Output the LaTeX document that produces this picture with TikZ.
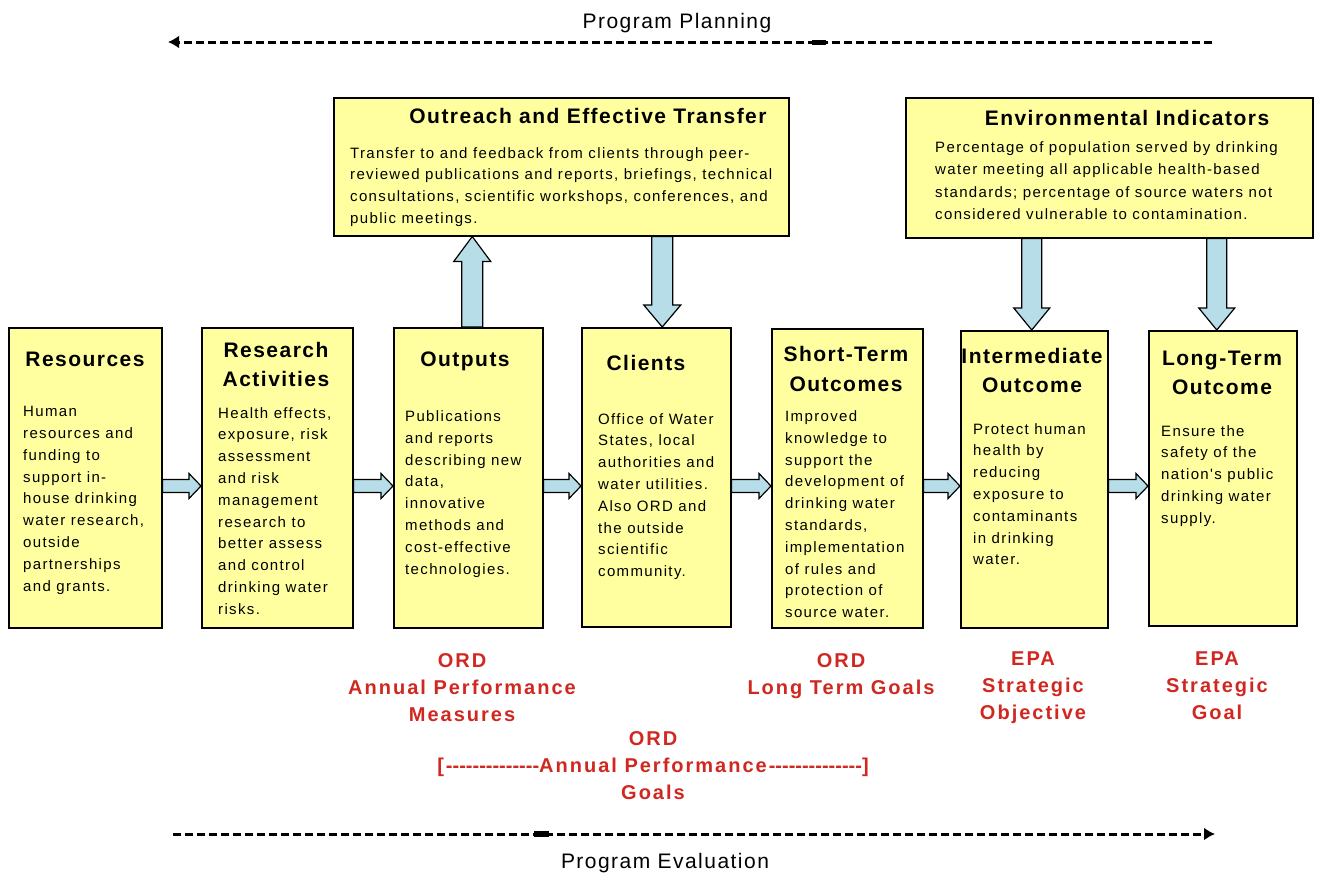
\documentclass[tikz,border=0pt]{standalone}
\usepackage{fontspec}
\setmainfont{Liberation Sans}
\newfontfamily\bodyfont[LetterSpace=9]{Liberation Sans}
\newfontfamily\headfont[LetterSpace=7]{Liberation Sans}
\newfontfamily\redfont[LetterSpace=10]{Liberation Sans}
\usetikzlibrary{calc,arrows.meta}
\definecolor{boxyellow}{RGB}{255,255,160}
\definecolor{arrowblue}{RGB}{183,221,232}
\definecolor{labelred}{RGB}{208,40,32}
\newcommand\ltab[1]{\begin{tabular}[t]{@{}l@{}}#1\end{tabular}}
\newcommand\ctab[1]{\begin{tabular}[t]{@{}c@{}}#1\end{tabular}}
\newcommand\dd{-\kern0pt}
\newcommand\blockarrow[5]{%
  \coordinate (ba-s) at (#1);
  \coordinate (ba-e) at (#2);
  \coordinate (ba-h) at ($(ba-e)!#5!(ba-s)$);
  \draw[barrow] ($(ba-s)!#3!90:(ba-e)$) -- ($(ba-h)!#3!-90:(ba-s)$) -- ($(ba-h)!#4!-90:(ba-s)$)
     -- (ba-e) -- ($(ba-h)!#4!90:(ba-s)$) -- ($(ba-h)!#3!90:(ba-s)$) -- ($(ba-s)!#3!-90:(ba-e)$) -- cycle;}
\tikzset{
  box/.style={draw=black, line width=1.5pt, fill=boxyellow, inner sep=0pt, anchor=north west},
  barrow/.style={draw=black, line width=1.2pt, fill=arrowblue, line join=miter},
  title/.style={font=\headfont\bfseries\fontsize{21}{29.5}\selectfont, anchor=base, inner sep=0pt},
  body/.style={font=\bodyfont\fontsize{15}{21.8}\selectfont, anchor=base west, inner sep=0pt},
  redlabel/.style={font=\redfont\bfseries\fontsize{20}{27}\selectfont, text=labelred, anchor=base, inner sep=0pt},
  prog/.style={font=\headfont\fontsize{21}{25}\selectfont, anchor=base, inner sep=0pt},
  planline/.style={line width=3pt, dash pattern=on 8pt off 4pt},
  plantip/.style={-{Latex[length=11pt,width=13pt]}},
}
\begin{document}
\begin{tikzpicture}[x=1pt,y=-1pt]
\useasboundingbox (0,0) rectangle (1328,873);
\fill[white] (0,0) rectangle (1328,873);

% program planning / evaluation
\node[prog] (pplan) at (677,28) {Program Planning};
\coordinate (pp-s) at (1212,42);
\coordinate (pp-e) at (168,42);
\draw[planline, plantip] (pp-s) -- (pp-e);
\fill (812,39.5) rectangle (826,45);

\node[prog] (peval) at (665,868) {Program Evaluation};
\coordinate (pe-s) at (173,834);
\coordinate (pe-e) at (1215,834);
\draw[planline, plantip] (pe-s) -- (pe-e);
\fill (534,831) rectangle (549,836.5);

% boxes
\node[box, minimum width=153pt, minimum height=300pt] (res) at (8,327) {};
\node[box, minimum width=151pt, minimum height=300pt] (rsa) at (201,327) {};
\node[box, minimum width=149pt, minimum height=300pt] (out) at (393,327) {};
\node[box, minimum width=149pt, minimum height=299pt] (cli) at (581,327) {};
\node[box, minimum width=151pt, minimum height=299pt] (sto) at (771,328) {};
\node[box, minimum width=147pt, minimum height=297pt] (int) at (960,330) {};
\node[box, minimum width=148pt, minimum height=295pt] (lto) at (1148,330) {};
\node[box, minimum width=455pt, minimum height=138pt] (outr) at (333,97) {};
\node[box, minimum width=407pt, minimum height=140pt] (env) at (905,97) {};

% titles
\node[title] (res-t) at (85,366.5) {Resources};
\node[title] (rsa-t) at (276,357) {\ctab{Research\\Activities}};
\node[title] (out-t) at (465,366.5) {Outputs};
\node[title] (cli-t) at (646,370) {Clients};
\node[title] (sto-t) at (846,361.5) {\ctab{Short-Term\\Outcomes}};
\node[title] (int-t) at (1032,363) {\ctab{Intermediate\\Outcome}};
\node[title] (lto-t) at (1222,365) {\ctab{Long-Term\\Outcome}};
\node[title] (outr-t) at (588,123) {Outreach and Effective Transfer};
\node[title] (env-t) at (1127,125) {Environmental Indicators};

% bodies
\node[body] (res-b) at (23,416.7) {\ltab{Human\\resources and\\funding to\\support in-\\house drinking\\water research,\\outside\\partnerships\\and grants.}};
\node[body] (rsa-b) at (218,418) {\ltab{Health effects,\\exposure, risk\\assessment\\and risk\\management\\research to\\better assess\\and control\\drinking water\\risks.}};
\node[body] (out-b) at (405,421.5) {\ltab{Publications\\and reports\\describing new\\data,\\innovative\\methods and\\cost-effective\\technologies.}};
\node[body] (cli-b) at (598,424) {\ltab{Office of Water\\States, local\\authorities and\\water utilities.\\Also ORD and\\the outside\\scientific\\community.}};
\node[body] (sto-b) at (785,421.5) {\ltab{Improved\\knowledge to\\support the\\development of\\drinking water\\standards,\\implementation\\of rules and\\protection of\\source water.}};
\node[body] (int-b) at (973,434) {\ltab{Protect human\\health by\\reducing\\exposure to\\contaminants\\in drinking\\water.}};
\node[body] (lto-b) at (1161,436) {\ltab{Ensure the\\safety of the\\nation's public\\drinking water\\supply.}};
\node[body] (outr-b) at (350,158) {\ltab{Transfer to and feedback from clients through peer-\\reviewed publications and reports, briefings, technical\\consultations, scientific workshops, conferences, and\\public meetings.}};
\node[body, font=\bodyfont\fontsize{15}{22.3}\selectfont] (env-b) at (935,152.5) {\ltab{Percentage of population served by drinking\\water meeting all applicable health-based\\standards; percentage of source waters not\\considered vulnerable to contamination.}};

% horizontal block arrows
\coordinate (ay) at (0,486);
\blockarrow{res.east |- ay}{rsa.west |- ay}{6.5pt}{12.5pt}{12pt}
\blockarrow{rsa.east |- ay}{out.west |- ay}{6.5pt}{12.5pt}{12pt}
\blockarrow{out.east |- ay}{cli.west |- ay}{6.5pt}{12.5pt}{12pt}
\blockarrow{cli.east |- ay}{sto.west |- ay}{6.5pt}{12.5pt}{12pt}
\blockarrow{sto.east |- ay}{int.west |- ay}{6.5pt}{12.5pt}{12pt}
\blockarrow{int.east |- ay}{lto.west |- ay}{6.5pt}{12.5pt}{12pt}

% vertical block arrows
\coordinate (u1) at ($(out.north)+(4,0)$);
\blockarrow{u1}{u1 |- outr.south}{10.5pt}{18.5pt}{25pt}
\coordinate (d1) at ($(cli.north)+(6,0)$);
\blockarrow{d1 |- outr.south}{d1}{10.5pt}{18.5pt}{22pt}
\coordinate (d2) at ($(int.north)+(-2.5,0)$);
\blockarrow{d2 |- env.south}{d2}{10pt}{18pt}{22pt}
\coordinate (d3) at ($(lto.north)+(-6,0)$);
\blockarrow{d3 |- env.south}{d3}{10pt}{18pt}{22pt}

% red labels
\node[redlabel] (l1) at (462,667) {\ctab{ORD\\Annual Performance\\Measures}};
\node[redlabel] (l2) at (841,667) {\ctab{ORD\\Long Term Goals}};
\node[redlabel] (l3) at (1033,665) {\ctab{EPA\\Strategic\\Objective}};
\node[redlabel] (l4) at (1217,665) {\ctab{EPA\\Strategic\\Goal}};
\node[redlabel] (l5) at (653,745) {\ctab{ORD\\{[}\dd\dd\dd\dd\dd\dd\dd\dd\dd\dd\dd\dd\dd\dd Annual Performance\dd\dd\dd\dd\dd\dd\dd\dd\dd\dd\dd\dd\dd\dd{]}\\Goals}};
\end{tikzpicture}
\end{document}
